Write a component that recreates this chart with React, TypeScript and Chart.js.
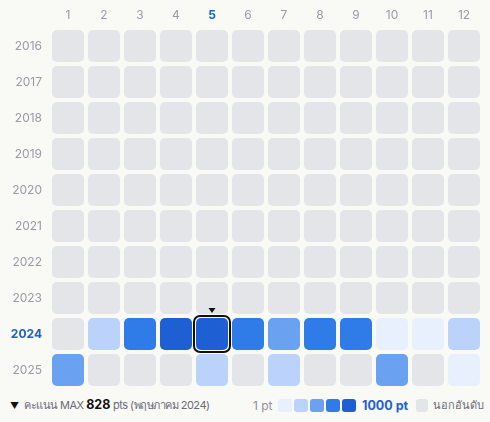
import React, { useEffect, useRef } from "react";
import { Chart, registerables } from "chart.js";

Chart.register(...registerables);

const MONTHS = ["1", "2", "3", "4", "5", "6", "7", "8", "9", "10", "11", "12"];
const YEARS = [2016, 2017, 2018, 2019, 2020, 2021, 2022, 2023, 2024, 2025];
// null = not ranked (นอกอันดับ)
const EMPTY_ROW: (number | null)[] = [null, null, null, null, null, null, null, null, null, null, null, null];
const SCORES_2024: (number | null)[] = [null, 320, 640, 812, 828, 660, 480, 650, 670, 90, 110, 300];
const SCORES_2025: (number | null)[] = [470, null, null, null, 280, null, 300, null, null, 520, null, 120];
const LEVEL_COLORS = ["#e8effd", "#bbd3fa", "#6aa1f1", "#2f7be8", "#1f5fd4"];
const EMPTY_COLOR = "#e4e5e9";
const SELECTED_YEAR = 2024;
const SELECTED_MONTH = 5;

const rowsFor = (y: number) => (y === 2024 ? SCORES_2024 : y === 2025 ? SCORES_2025 : EMPTY_ROW);

const colorFor = (v: number | null) => {
  if (v == null) return EMPTY_COLOR;
  const lvl = Math.min(4, Math.floor(v / 200));
  return LEVEL_COLORS[lvl];
};

const FONT = "Inter, 'Noto Sans', sans-serif";
const GRAY = "#9b9ba8";
const BLUE = "#1f5fd4";

export default function App() {
  const ref = useRef<HTMLCanvasElement>(null);

  useEffect(() => {
    document.body.style.margin = "0";
    document.body.style.background = "#f9f9f5";
    const canvas = ref.current!;
    const half = 16 / 36;

    const highlight = {
      id: "highlight",
      afterDatasetsDraw(chart: any) {
        const di = YEARS.indexOf(SELECTED_YEAR);
        const el: any = chart.getDatasetMeta(di).data[SELECTED_MONTH - 1];
        if (!el) return;
        const { x, y, base, width } = el.getProps(["x", "y", "base", "width"], true);
        const top = Math.min(y, base);
        const bottom = Math.max(y, base);
        const left = x - width / 2;
        const ctx = chart.ctx;
        ctx.save();
        ctx.strokeStyle = "#111111";
        ctx.lineWidth = 2;
        ctx.beginPath();
        ctx.roundRect(left - 2, top - 2, width + 4, bottom - top + 4, 6);
        ctx.stroke();
        ctx.fillStyle = "#111111";
        ctx.beginPath();
        ctx.moveTo(x - 3.5, top - 10);
        ctx.lineTo(x + 3.5, top - 10);
        ctx.lineTo(x, top - 5);
        ctx.closePath();
        ctx.fill();
        ctx.restore();
      },
    };

    const chart = new Chart(canvas, {
      type: "bar",
      data: {
        labels: MONTHS,
        datasets: YEARS.map((yr) => {
          const row = rowsFor(yr);
          return {
            label: String(yr),
            data: MONTHS.map(() => [yr - half, yr + half]) as any,
            backgroundColor: row.map(colorFor),
            borderWidth: 0,
            borderRadius: 5,
            borderSkipped: false,
            grouped: false,
            barPercentage: 32 / 36,
            categoryPercentage: 1,
          } as any;
        }),
      },
      options: {
        animation: false,
        responsive: false,
        devicePixelRatio: 1,
        layout: { padding: { left: 0, right: 8, top: 0, bottom: 2 } },
        plugins: { legend: { display: false }, tooltip: { enabled: false } },
        scales: {
          x: {
            position: "top",
            grid: { display: false, drawTicks: false },
            border: { display: false },
            afterFit: (s: any) => {
              s.height = 28;
              s.paddingLeft = 0;
              s.paddingRight = 0;
            },
            ticks: {
              padding: 5,
              color: (c: any) => (c.index === SELECTED_MONTH - 1 ? BLUE : GRAY),
              font: (c: any) => ({
                family: FONT,
                size: 12,
                weight: c.index === SELECTED_MONTH - 1 ? "bold" : "normal",
              }),
            },
          },
          y: {
            type: "linear",
            reverse: true,
            min: YEARS[0] - 0.5,
            max: YEARS[YEARS.length - 1] + 0.5,
            grid: { display: false, drawTicks: false },
            border: { display: false },
            afterFit: (s: any) => {
              s.width = 50;
              s.paddingTop = 0;
              s.paddingBottom = 0;
            },
            afterBuildTicks: (s: any) => {
              s.ticks = YEARS.map((v) => ({ value: v }));
            },
            ticks: {
              padding: 8,
              autoSkip: false,
              callback: (v: any) => String(v),
              color: (c: any) => (c.tick && c.tick.value === SELECTED_YEAR ? BLUE : GRAY),
              font: (c: any) => ({
                family: FONT,
                size: 12,
                weight: c.tick && c.tick.value === SELECTED_YEAR ? "bold" : "normal",
              }),
            },
          },
        },
      } as any,
      plugins: [highlight],
    });
    return () => chart.destroy();
  }, []);

  const maxVal = Math.max(...SCORES_2024.map((v) => v ?? 0), ...SCORES_2025.map((v) => v ?? 0));
  const row = (left: number, child: any, key?: any, extra: any = {}) => (
    <div
      key={key}
      style={{
        position: "absolute",
        left,
        top: 396,
        height: 18,
        display: "flex",
        alignItems: "center",
        whiteSpace: "nowrap",
        fontSize: 12,
        ...extra,
      }}
    >
      {child}
    </div>
  );

  return (
    <div style={{ position: "relative", width: 490, height: 422, background: "#f9f9f5", fontFamily: FONT }}>
      <canvas ref={ref} width={490} height={390} style={{ display: "block", width: 490, height: 390 }} />
      {row(10, <span style={{ fontSize: 9, color: "#111" }}>▼</span>)}
      {row(
        24,
        <span style={{ letterSpacing: -0.5 }}>
          คะแนน MAX <b style={{ color: "#111", fontSize: 12.5, letterSpacing: 0 }}>{maxVal}</b> pts (พฤษภาคม 2024)
        </span>,
        undefined,
        { color: "#6b6b78", fontSize: 11 }
      )}
      {row(253, <span>1 pt</span>, undefined, { color: "#8f8f9c" })}
      {LEVEL_COLORS.map((c, i) =>
        row(
          278 + i * 16,
          <span style={{ display: "inline-block", width: 14, height: 13, borderRadius: 3, background: c }} />,
          "s" + i
        )
      )}
      {row(362, <b>1000 pt</b>, undefined, { color: BLUE, fontSize: 12.5 })}
      {row(
        416,
        <span style={{ display: "inline-block", width: 12, height: 13, borderRadius: 3, background: EMPTY_COLOR }} />
      )}
      {row(433, <span>นอกอันดับ</span>, undefined, { color: "#6b6b78", fontSize: 11 })}
    </div>
  );
}
